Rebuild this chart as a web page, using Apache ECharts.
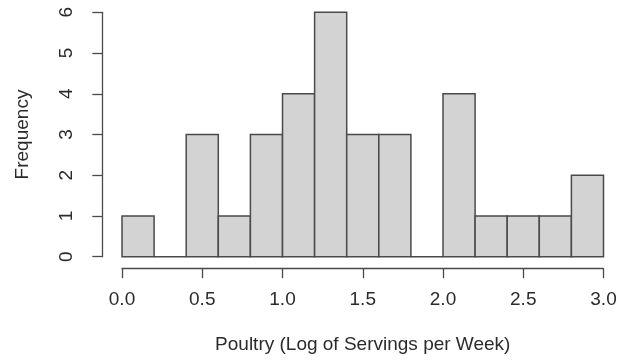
<!DOCTYPE html>
<html>
<head>
<meta charset="utf-8">
<script src="https://cdn.jsdelivr.net/npm/echarts@6/dist/echarts.min.js"></script>
<style>html,body{margin:0;padding:0;background:#fff}#c{width:625px;height:362px}</style>
</head>
<body>
<div id="c"></div>
<script>
const binStarts = [0.0,0.2,0.4,0.6,0.8,1.0,1.2,1.4,1.6,1.8,2.0,2.2,2.4,2.6,2.8];
const binWidth = 0.2;
const counts = [1,0,3,1,3,4,6,3,3,0,4,1,1,1,2];
const xTicks = ['0.0','0.5','1.0','1.5','2.0','2.5','3.0'];
const yTicks = ['0','1','2','3','4','5','6'];
const xTitle = 'Poultry (Log of Servings per Week)';
const yTitle = 'Frequency';

const data = binStarts.map((s,i)=>[s, +(s+binWidth).toFixed(2), counts[i]]);
const chart = echarts.init(document.getElementById('c'));
const font = 'Liberation Sans, Arial, sans-serif';
const axisCol = '#4a4a4a';
const textCol = '#2b2b2b';
chart.setOption({
  animation:false,
  grid:{left:122,right:21.5,top:12.3,bottom:105.3},
  xAxis:{type:'value',min:0,max:3,interval:0.5,offset:11.5,
    axisLine:{show:true,onZero:false,lineStyle:{color:axisCol,width:1.3}},
    axisTick:{show:true,length:10,lineStyle:{color:axisCol,width:1.3}},
    splitLine:{show:false},
    axisLabel:{margin:22,color:textCol,fontSize:19,fontFamily:font,formatter:(v)=>xTicks[Math.round(v/0.5)]},
    name:xTitle,nameLocation:'middle',nameGap:67,
    nameTextStyle:{color:textCol,fontSize:19,fontFamily:font}
  },
  yAxis:{type:'value',min:0,max:6,interval:1,offset:19.7,
    axisLine:{show:true,onZero:false,lineStyle:{color:axisCol,width:1.3}},
    axisTick:{show:true,length:10,lineStyle:{color:axisCol,width:1.3}},
    splitLine:{show:false},
    axisLabel:{margin:26,rotate:90,color:textCol,fontSize:19,fontFamily:font,formatter:(v)=>yTicks[Math.round(v)]},
    name:yTitle,nameLocation:'middle',nameGap:70,nameRotate:90,
    nameTextStyle:{color:textCol,fontSize:19,fontFamily:font}
  },
  series:[{type:'custom',data:data,encode:{x:[0,1],y:2},
    renderItem:(params,api)=>{
      const p0=api.coord([api.value(0),api.value(2)]);
      const p1=api.coord([api.value(1),0]);
      return {type:'rect',shape:{x:p0[0],y:p0[1],width:p1[0]-p0[0],height:p1[1]-p0[1]},
        style:{fill:'#d3d3d3',stroke:'#4a4a4a',lineWidth:1.5}};
    }
  }]
});
</script>
</body>
</html>
